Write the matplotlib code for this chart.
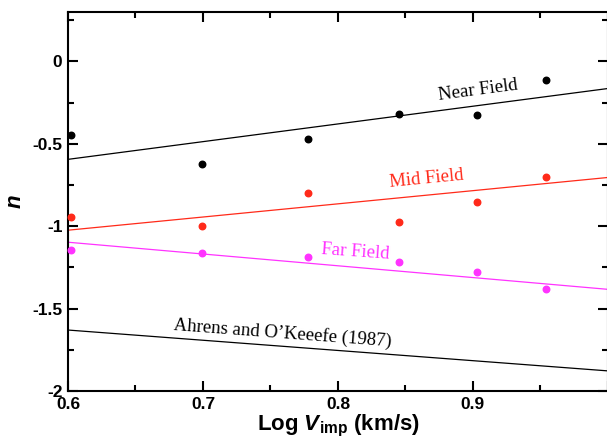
import matplotlib.pyplot as plt
import numpy as np
from matplotlib.ticker import MultipleLocator, FixedLocator, FixedFormatter

plt.rcParams['font.family'] = ['Liberation Sans', 'DejaVu Sans']
plt.rcParams['mathtext.fontset'] = 'custom'
plt.rcParams['mathtext.rm'] = 'Liberation Sans'
plt.rcParams['mathtext.bf'] = 'Liberation Sans:bold'
plt.rcParams['mathtext.bfit'] = 'Liberation Sans:bold:italic'
plt.rcParams['mathtext.it'] = 'Liberation Sans:italic'

# impact velocities 4..9 km/s
log_v = [0.602, 0.699, 0.778, 0.845, 0.903, 0.954]
near_n = [-0.448, -0.624, -0.473, -0.320, -0.327, -0.115]
mid_n = [-0.945, -1.000, -0.800, -0.976, -0.855, -0.703]
far_n = [-1.145, -1.164, -1.188, -1.218, -1.279, -1.382]

# fit lines (slope, intercept)
near_fit = (1.075, -1.239)
mid_fit = (0.80, -1.504)
far_fit = (-0.715, -0.668)
ahrens_fit = (-0.62, -1.258)

x_line = np.array([0.6, 1.0])

fig = plt.figure(figsize=(6.07, 4.47), dpi=100)
ax = fig.add_axes([0.112, 0.1253, 0.8895, 0.8477])

ax.plot(x_line, near_fit[0] * x_line + near_fit[1], color='black', lw=0.9)
ax.plot(x_line, mid_fit[0] * x_line + mid_fit[1], color='#ff2a1a', lw=0.9)
ax.plot(x_line, far_fit[0] * x_line + far_fit[1], color='#ff33ff', lw=0.9)
ax.plot(x_line, ahrens_fit[0] * x_line + ahrens_fit[1], color='black', lw=0.9)

ax.scatter(log_v, near_n, s=22, color='black', zorder=3, clip_on=False)
ax.scatter(log_v, mid_n, s=22, color='#ff2a1a', zorder=3, clip_on=False)
ax.scatter(log_v, far_n, s=22, color='#ff33ff', zorder=3, clip_on=False)

serif = ['Liberation Serif', 'DejaVu Serif']
ax.text(0.904, -0.178, 'Near Field', family=serif, fontsize=13.5, rotation=7.5,
        ha='center', va='center', color='black')
ax.text(0.866, -0.714, 'Mid Field', family=serif, fontsize=13.5, rotation=5.6,
        ha='center', va='center', color='#ff2a1a')
ax.text(0.813, -1.158, 'Far Field', family=serif, fontsize=13.5, rotation=-4,
        ha='center', va='center', color='#ff33ff')
ax.text(0.759, -1.65, 'Ahrens and O\u2019Keeefe (1987)', family=serif, fontsize=13.5,
        rotation=-4.3, ha='center', va='center', color='black')

ax.set_xlim(0.6, 1.0)
ax.set_ylim(-2, 0.3)

ax.xaxis.set_major_locator(FixedLocator([0.6, 0.7, 0.8, 0.9, 1.0]))
ax.xaxis.set_major_formatter(FixedFormatter(['0.6', '0.7', '0.8', '0.9', '']))
ax.xaxis.set_minor_locator(MultipleLocator(0.05))
ax.yaxis.set_major_locator(FixedLocator([-2, -1.5, -1, -0.5, 0]))
ax.yaxis.set_major_formatter(FixedFormatter(['-2', '-1.5', '-1', '-0.5', '0']))
ax.yaxis.set_minor_locator(MultipleLocator(0.25))

ax.tick_params(which='both', direction='in', top=True, right=True, width=1.5)
ax.tick_params(which='major', length=7, labelsize=12.5, pad=4)
ax.tick_params(which='minor', length=4)
for lab in ax.get_xticklabels() + ax.get_yticklabels():
    lab.set_fontweight('bold')
for sp in ax.spines.values():
    sp.set_linewidth(1.5)

ax.set_xlabel(r'Log $\mathbfit{V}_{\mathbf{imp}}$ (km/s)', fontsize=16, fontweight='bold', labelpad=1)
ax.set_ylabel('n', fontsize=16, fontweight='bold', fontstyle='italic')
ax.yaxis.set_label_coords(-0.078, 0.5)

fig.savefig('out.png', dpi=100)
